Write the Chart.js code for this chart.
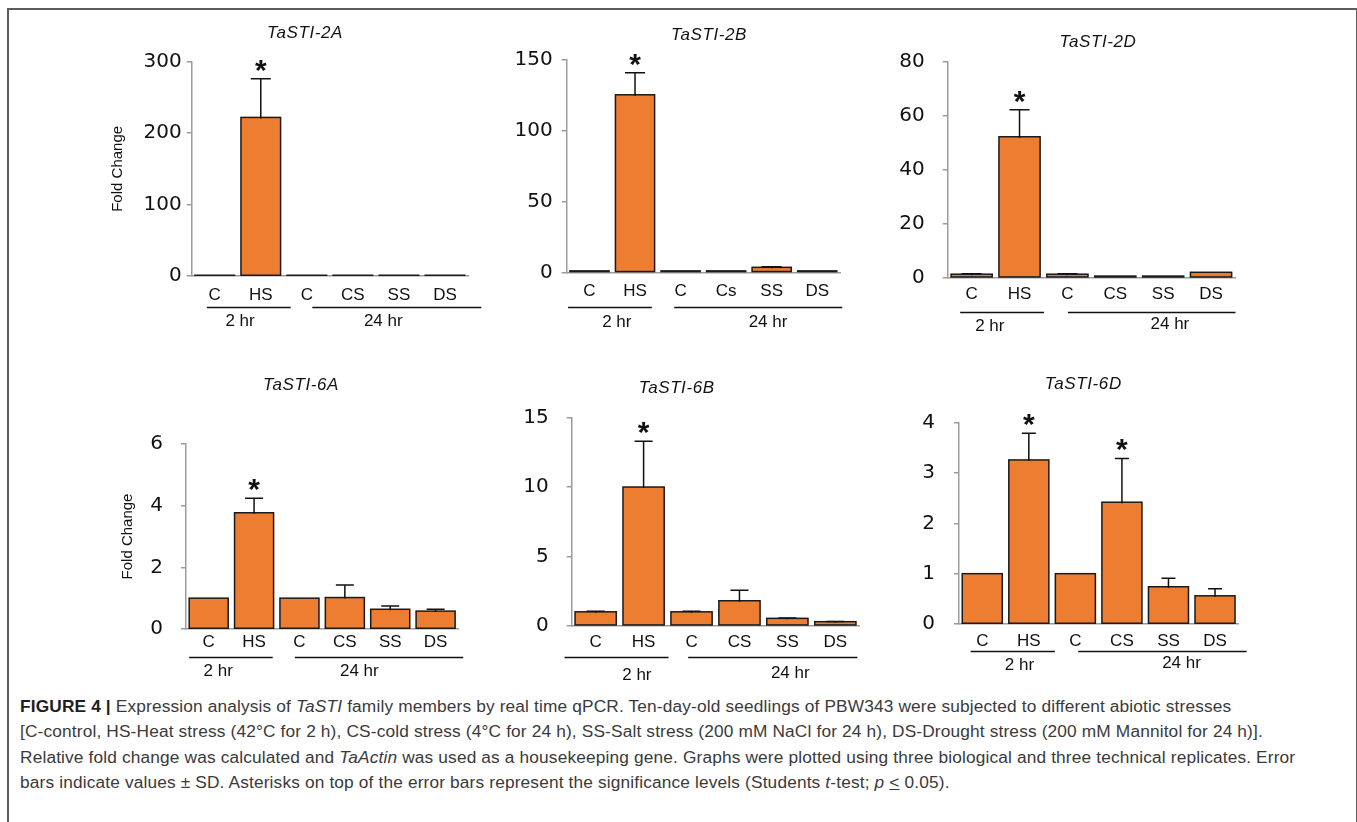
<!DOCTYPE html>
<html>
<head>
<meta charset="utf-8">
<script src="https://cdn.jsdelivr.net/npm/chart.js@4.4.1/dist/chart.umd.min.js"></script>
<style>
  html, body { margin: 0; padding: 0; background: #fff; }
  body { width: 1357px; height: 822px; position: relative; overflow: hidden;
         font-family: "Liberation Sans", Arial, sans-serif; }
  .frame { position: absolute; left: 7px; top: 8px; width: 1347px; height: 830px;
           border: 2px solid #5c5c5c; border-bottom: none; }
  .panel { position: absolute; }
  .caption { position: absolute; left: 20px; top: 694px; font-size: 17.3px; line-height: 25.4px;
             letter-spacing: 0.15px; color: #3a3a3a; white-space: nowrap; }
  .caption b { color: #1e1e1e; }
</style>
</head>
<body>
<div class="frame"></div>
<canvas id="p2A" class="panel" width="400" height="350" style="left:100px;top:0px"></canvas>
<canvas id="p2B" class="panel" width="380" height="350" style="left:500px;top:0px"></canvas>
<canvas id="p2D" class="panel" width="420" height="350" style="left:880px;top:0px"></canvas>
<canvas id="p6A" class="panel" width="400" height="320" style="left:100px;top:370px"></canvas>
<canvas id="p6B" class="panel" width="380" height="320" style="left:500px;top:370px"></canvas>
<canvas id="p6D" class="panel" width="420" height="320" style="left:880px;top:370px"></canvas>

<div class="caption">
  <div><b>FIGURE 4 |</b> Expression analysis of <i>TaSTI</i> family members by real time qPCR. Ten-day-old seedlings of PBW343 were subjected to different abiotic stresses</div>
  <div>[C-control, HS-Heat stress (42°C for 2 h), CS-cold stress (4°C for 24 h), SS-Salt stress (200 mM NaCl for 24 h), DS-Drought stress (200 mM Mannitol for 24 h)].</div>
  <div>Relative fold change was calculated and <i>TaActin</i> was used as a housekeeping gene. Graphs were plotted using three biological and three technical replicates. Error</div>
  <div>bars indicate values ± SD. Asterisks on top of the error bars represent the significance levels (Students <i>t</i>-test; <i>p</i> <u>&lt;</u> 0.05).</div>
</div>

<script>
// ---- data ----
const treatments   = ['C', 'HS', 'C', 'CS', 'SS', 'DS'];
const treatments2B = ['C', 'HS', 'C', 'Cs', 'SS', 'DS'];
const timeGroups   = ['2 hr', '24 hr'];

const fold2A = [1, 222, 1, 1, 1, 1];
const sd2A   = [0, 54, 0, 0, 0, 0];
const sig2A  = [false, true, false, false, false, false];

const fold2B = [1, 125, 1, 1, 3.5, 1];
const sd2B   = [0, 15.5, 0, 0, 0.4, 0];
const sig2B  = [false, true, false, false, false, false];

const fold2D = [1.3, 52.2, 1.3, 0.6, 0.6, 2.0];
const sd2D   = [0.15, 10, 0.15, 0, 0, 0];
const sig2D  = [false, true, false, false, false, false];

const fold6A = [1.0, 3.77, 1.0, 1.02, 0.64, 0.58];
const sd6A   = [0, 0.47, 0, 0.41, 0.11, 0.06];
const sig6A  = [false, true, false, false, false, false];

const fold6B = [1.0, 10.0, 1.0, 1.8, 0.53, 0.29];
const sd6B   = [0.05, 3.3, 0.05, 0.75, 0.03, 0.02];
const sig6B  = [false, true, false, false, false, false];

const fold6D = [1.0, 3.26, 1.0, 2.42, 0.74, 0.56];
const sd6D   = [0, 0.53, 0, 0.87, 0.17, 0.14];
const sig6D  = [false, true, false, true, false, false];

const yMax2A = 300, yStep2A = 100;
const yMax2B = 150, yStep2B = 50;
const yMax2D = 80,  yStep2D = 20;
const yMax6A = 6,   yStep6A = 2;
const yMax6B = 15,  yStep6B = 5;
const yMax6D = 4,   yStep6D = 1;

// ---- styling ----
const BAR_FILL = '#ED7D31';
const AXIS_GREY = '#9c9c9c';
const ARIAL = '"Liberation Sans", Arial, sans-serif';

// bar outlines (centred on the bar edges so tiny bars stay visible),
// error bars, significance stars, gene title and time-group brackets
const panelDecor = {
  id: 'panelDecor',
  afterDatasetsDraw(chart, args, o) {
    const ctx = chart.ctx, ys = chart.scales.y;
    const meta = chart.getDatasetMeta(0);
    const vals = chart.data.datasets[0].data;
    ctx.save();
    ctx.strokeStyle = '#1a1a1a';
    ctx.lineWidth = 1.5;
    meta.data.forEach((bar) => {
      const h = bar.base - bar.y;
      ctx.strokeRect(bar.x - bar.width / 2, bar.y, bar.width, h);
    });
    ctx.strokeStyle = '#111';
    meta.data.forEach((bar, i) => {
      const top = ys.getPixelForValue(vals[i] + o.sd[i]);
      if (o.sd[i] > 0) {
        const base = ys.getPixelForValue(vals[i]);
        ctx.beginPath();
        ctx.moveTo(bar.x, base + 1);
        ctx.lineTo(bar.x, top);
        ctx.moveTo(bar.x - o.cap, top);
        ctx.lineTo(bar.x + o.cap, top);
        ctx.stroke();
      }
      if (o.sig[i]) {
        ctx.fillStyle = '#111';
        ctx.font = 'bold 30px ' + ARIAL;
        ctx.textAlign = 'center';
        ctx.textBaseline = 'alphabetic';
        ctx.fillText('*', bar.x, top - o.starGap + 17);
      }
    });
    ctx.restore();
  },
  afterDraw(chart, args, o) {
    const ctx = chart.ctx;
    const x0 = chart.chartArea.left;
    const w = (chart.chartArea.right - chart.chartArea.left) / chart.data.labels.length;
    const base = chart.chartArea.bottom;
    ctx.save();
    // gene name
    ctx.fillStyle = '#111';
    ctx.font = 'italic 17px ' + ARIAL;
    ctx.textAlign = 'center';
    ctx.textBaseline = 'middle';
    if ('letterSpacing' in ctx) ctx.letterSpacing = '0.6px';
    ctx.fillText(o.title, o.titleX, o.titleY);
    if ('letterSpacing' in ctx) ctx.letterSpacing = '0px';
    // time-group brackets
    ctx.strokeStyle = '#111';
    ctx.lineWidth = 1.3;
    ctx.font = '17px ' + ARIAL;
    o.groups.forEach((g, k) => {
      const y = Math.round(base + g.lineY) + 0.5;
      ctx.beginPath();
      ctx.moveTo(x0 + g.from * w, y);
      ctx.lineTo(x0 + g.to * w, y);
      ctx.stroke();
      ctx.fillText(timeGroups[k], x0 + g.textAt * w, base + g.textY);
    });
    ctx.restore();
  }
};

function makePanel(id, cfg) {
  const el = document.getElementById(id);
  return new Chart(el, {
    type: 'bar',
    data: {
      labels: cfg.labels,
      datasets: [{
        data: cfg.values,
        backgroundColor: BAR_FILL,
        borderWidth: 0,
        inflateAmount: 0,
        categoryPercentage: 1.0,
        barPercentage: 0.86
      }]
    },
    options: {
      responsive: false,
      animation: false,
      events: [],
      layout: { padding: { left: 0, top: cfg.area.top, right: cfg.area.right, bottom: 0 } },
      plugins: {
        legend: { display: false },
        tooltip: { enabled: false },
        title: { display: false },
        panelDecor: {
          sd: cfg.sd, sig: cfg.sig, cap: cfg.cap, starGap: 16,
          title: cfg.title, titleX: cfg.titleX, titleY: cfg.titleY,
          groups: cfg.groups
        }
      },
      scales: {
        x: {
          grid: { display: false, drawTicks: false },
          border: { color: AXIS_GREY, width: 1.5 },
          ticks: { color: '#111', font: { family: ARIAL, size: 17 }, padding: cfg.xPad, maxRotation: 0, autoSkip: false },
          afterFit(s) { s.height = cfg.area.bottom; }
        },
        y: {
          min: 0, max: cfg.max,
          grid: { drawOnChartArea: false, drawTicks: true, tickLength: 5, color: AXIS_GREY, lineWidth: 1.5 },
          border: { color: AXIS_GREY, width: 1.5 },
          ticks: { stepSize: cfg.step, color: '#111', font: { family: '"DejaVu Sans", sans-serif', size: 20 }, padding: cfg.yPad },
          title: cfg.yTitle ? { display: true, text: 'Fold Change', color: '#111',
                   font: { family: ARIAL, size: 15 }, padding: { top: cfg.yTitlePad, bottom: 0 } } : { display: false },
          afterFit(s) { s.width = cfg.area.left; }
        }
      }
    },
    plugins: [panelDecor]
  });
}

makePanel('p2A', {
  labels: treatments, values: fold2A, sd: sd2A, sig: sig2A, max: yMax2A, step: yStep2A,
  title: 'TaSTI-2A', titleX: 205, titleY: 33,
  area: { left: 91.7, top: 61.7, right: 32, bottom: 74 },
  xPad: 9, yPad: 5, yTitle: true, yTitlePad: 8.7, cap: 10,
  groups: [ { from: 0.33, to: 2.15, lineY: 30.7, textAt: 1.05, textY: 45.7 },
            { from: 2.62, to: 6.29, lineY: 30.7, textAt: 4.16, textY: 45.7 } ]
});
makePanel('p2B', {
  labels: treatments2B, values: fold2B, sd: sd2B, sig: sig2B, max: yMax2B, step: yStep2B,
  title: 'TaSTI-2B', titleX: 209, titleY: 35,
  area: { left: 66.7, top: 59.3, right: 40, bottom: 77.7 },
  xPad: 9, yPad: 9, yTitle: false, cap: 10,
  groups: [ { from: 0.03, to: 1.87, lineY: 35, textAt: 1.10, textY: 50.4 },
            { from: 2.36, to: 6.05, lineY: 35, textAt: 4.42, textY: 50.4 } ]
});
makePanel('p2D', {
  labels: treatments, values: fold2D, sd: sd2D, sig: sig2D, max: yMax2D, step: yStep2D,
  title: 'TaSTI-2D', titleX: 218, titleY: 42.7,
  area: { left: 67.7, top: 61.7, right: 65, bottom: 72.3 },
  xPad: 6, yPad: 18, yTitle: false, cap: 10,
  groups: [ { from: 0.26, to: 2.01, lineY: 34, textAt: 0.88, textY: 48.3 },
            { from: 2.51, to: 6.01, lineY: 34, textAt: 4.64, textY: 46.3 } ]
});
makePanel('p6A', {
  labels: treatments, values: fold6A, sd: sd6A, sig: sig6A, max: yMax6A, step: yStep6A,
  title: 'TaSTI-6A', titleX: 201, titleY: 15,
  area: { left: 86, top: 74, right: 41.7, bottom: 61 },
  xPad: 3.5, yPad: 18, yTitle: true, yTitlePad: 19.3, cap: 9,
  groups: [ { from: 0.07, to: 1.91, lineY: 27.7, textAt: 0.71, textY: 42.7 },
            { from: 2.40, to: 6.11, lineY: 27.7, textAt: 3.82, textY: 42.7 } ]
});
makePanel('p6B', {
  labels: treatments, values: fold6B, sd: sd6B, sig: sig6B, max: yMax6B, step: yStep6B,
  title: 'TaSTI-6B', titleX: 176.7, titleY: 18.3,
  area: { left: 71.7, top: 47.7, right: 20.7, bottom: 64.3 },
  xPad: 6, yPad: 18, yTitle: false, cap: 9,
  groups: [ { from: -0.15, to: 2.02, lineY: 31.6, textAt: 1.36, textY: 49.3 },
            { from: 2.43, to: 5.96, lineY: 31.6, textAt: 4.56, textY: 47.6 } ]
});
makePanel('p6D', {
  labels: treatments, values: fold6D, sd: sd6D, sig: sig6D, max: yMax6D, step: yStep6D,
  title: 'TaSTI-6D', titleX: 203.3, titleY: 14,
  area: { left: 79, top: 52.7, right: 61.7, bottom: 66 },
  xPad: 7, yPad: 19, yTitle: false, cap: 7,
  groups: [ { from: 0.25, to: 2.06, lineY: 26.7, textAt: 1.30, textY: 41 },
            { from: 2.56, to: 6.18, lineY: 26.7, textAt: 4.78, textY: 39.3 } ]
});
</script>
</body>
</html>
